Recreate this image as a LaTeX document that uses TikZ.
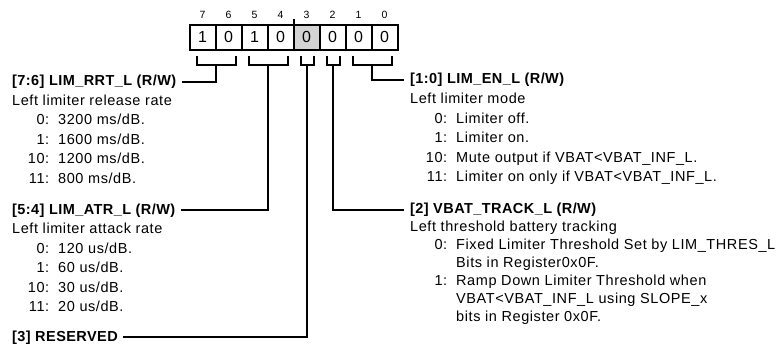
\documentclass[tikz,border=0pt]{standalone}
\usepackage{fontspec}
\setmainfont{Liberation Sans}
\newfontfamily\regfont[LetterSpace=4]{Liberation Sans}
\newfontfamily\hdrfont[LetterSpace=3]{Liberation Sans}
\usetikzlibrary{calc}

% value list entries: "10:  text"
\newcommand{\opt}[2]{\makebox[37pt][r]{#1:}\hspace{9pt}#2}
\newcommand{\optcont}[1]{\hspace*{46pt}#1}

\begin{document}
\begin{tikzpicture}[x=1pt, y=-1pt,
    cell/.style={draw, line width=2pt, outer sep=0pt, inner sep=0pt,
                 minimum width=26pt, minimum height=25pt,
                 font=\fontsize{16}{16}\selectfont},
    bitno/.style={inner sep=0pt, font=\fontsize{10.5}{10.5}\selectfont},
    hdr/.style={anchor=base west, inner sep=0pt,
                font=\hdrfont\bfseries\fontsize{14.5}{19.5}\selectfont},
    desc/.style={anchor=north west, inner sep=0pt, align=left,
                 font=\regfont\fontsize{14.5}{19.5}\selectfont},
    wire/.style={line width=2pt}]
  \useasboundingbox (0,0) rectangle (778,350);

  % register cells and bit numbers
  \foreach \b/\v/\shade [count=\i from 0] in
      {7/1/white, 6/0/white, 5/1/white, 4/0/white,
       3/0/black!17, 2/0/white, 1/0/white, 0/0/white} {
    \node[cell, fill=\shade] (c\b) at (202.5+26*\i, 37.2) {\v};
    \node[bitno] (n\b) at (202.5+26*\i, 14.5) {\b};
  }
  \draw[wire] (c4.north east) -- ++(0,-6);

  % field descriptions, left side
  \node[hdr] (rrt) at (12,85.5) {[7:6] LIM\_RRT\_L (R/W)};
  \node[desc] (rrtdesc) at (12,94.4)
    {Left limiter release rate\\
     \opt{0}{3200 ms/dB.}\\
     \opt{1}{1600 ms/dB.}\\
     \opt{10}{1200 ms/dB.}\\
     \opt{11}{800 ms/dB.}};

  \node[hdr] (atr) at (12,214) {[5:4] LIM\_ATR\_L (R/W)};
  \node[desc] (atrdesc) at (12,222.9)
    {Left limiter attack rate\\
     \opt{0}{120 us/dB.}\\
     \opt{1}{60 us/dB.}\\
     \opt{10}{30 us/dB.}\\
     \opt{11}{20 us/dB.}};

  \node[hdr] (rsv) at (12,341) {[3] RESERVED};

  % field descriptions, right side
  \node[hdr] (en) at (410,84) {[1:0] LIM\_EN\_L (R/W)};
  \node[desc] (endesc) at (410,92.9)
    {Left limiter mode\\
     \opt{0}{Limiter off.}\\
     \opt{1}{Limiter on.}\\
     \opt{10}{Mute output if VBAT<VBAT\_INF\_L.}\\
     \opt{11}{Limiter on only if VBAT<VBAT\_INF\_L.}};

  \node[hdr] (trk) at (410,213.5) {[2] VBAT\_TRACK\_L (R/W)};
  \node[desc, font=\regfont\fontsize{14.5}{18}\selectfont] (trkdesc) at (410,220.9)
    {Left threshold battery tracking\\
     \opt{0}{Fixed Limiter Threshold Set by LIM\_THRES\_L}\\
     \optcont{Bits in Register0x0F.}\\
     \opt{1}{Ramp Down Limiter Threshold when}\\
     \optcont{VBAT<VBAT\_INF\_L using SLOPE\_x}\\
     \optcont{bits in Register 0x0F.}};

  % brackets under the cells
  \draw[wire] ($(c7.south west)+(7,6)$) -- ++(0,9) -| ($(c6.south east)+(-6,6)$);
  \draw[wire] ($(c5.south west)+(7,6)$) -- ++(0,9) -| ($(c4.south east)+(-6,6)$);
  \draw[wire] ($(c3.south west)+(7,6)$) -- ++(0,9) -| ($(c3.south east)+(-6,6)$);
  \draw[wire] ($(c2.south west)+(7,6)$) -- ++(0,9) -| ($(c2.south east)+(-6,6)$);
  \draw[wire] ($(c1.south west)+(7,6)$) -- ++(0,9) -| ($(c0.south east)+(-6,6)$);

  % leaders to the field names
  \draw[wire] ($(c7.south east)+(0,15)$) |- ([xshift=6pt]rrt.east);
  \draw[wire] ($(c5.south east)+(0,15)$) |- ([xshift=6pt]atr.east);
  \draw[wire] ($(c3.south)+(0,15)$) |- ([xshift=5pt]rsv.east);
  \draw[wire] ($(c2.south)+(0,15)$) |- ([xshift=-6pt]trk.west);
  \draw[wire] ($(c1.south east)+(0,15)$) |- ([xshift=-6pt]en.west);
\end{tikzpicture}
\end{document}
